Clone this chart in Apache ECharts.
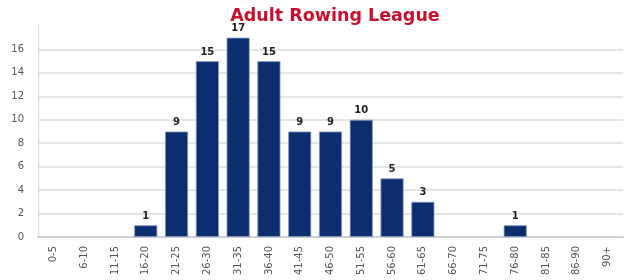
<!DOCTYPE html>
<html>
<head>
<meta charset="utf-8">
<script src="https://cdn.jsdelivr.net/npm/echarts@6/dist/echarts.min.js"></script>
<style>
  html, body { margin: 0; padding: 0; background: #fff; }
  #chart { width: 636px; height: 280px; }
</style>
</head>
<body>
<div id="chart"></div>
<script>
// age groups
const ageGroups = ['0-5', '6-10', '11-15', '16-20', '21-25', '26-30', '31-35', '36-40', '41-45', '46-50',
  '51-55', '56-60', '61-65', '66-70', '71-75', '76-80', '81-85', '86-90', '90+']
// members per group
const memberCounts = [0, 0, 0, 1, 9, 15, 17, 15, 9, 9, 10, 5, 3, 0, 0, 1, 0, 0, 0]

const chart = echarts.init(document.getElementById('chart'))

chart.setOption({
  animation: false,
  textStyle: { fontFamily: 'DejaVu Sans' },
  title: {
    text: 'Adult Rowing League',
    left: 330,
    textAlign: 'center',
    top: 2,
    textStyle: { color: '#c8102e', fontSize: 17.5, fontWeight: 'bold', fontFamily: 'DejaVu Sans' }
  },
  grid: { left: 38, right: 13, top: 26, bottom: 43 },
  xAxis: {
    type: 'category',
    data: ageGroups,
    axisLine: { lineStyle: { color: '#d0d0d0', width: 2 } },
    axisTick: { show: false },
    axisLabel: { rotate: 90, color: '#555', fontSize: 10, margin: 9 }
  },
  yAxis: {
    type: 'value',
    min: 0,
    max: 18,
    interval: 2,
    axisLine: { show: true, lineStyle: { color: '#d8d8d8' } },
    axisTick: { show: false },
    axisLabel: { color: '#555', fontSize: 10, margin: 14, showMaxLabel: false },
    splitLine: { showMaxLine: false, lineStyle: { color: '#dddddd', width: 1.5 } }
  },
  series: [{
    type: 'bar',
    // empty groups get no outline
    data: memberCounts.map(v => (v === 0 ? { value: v, itemStyle: { borderWidth: 0 } } : v)),
    barCategoryGap: '25%',
    itemStyle: { color: '#0d2e6e', borderColor: '#8a9cc4', borderWidth: 0.8 },
    label: {
      show: true,
      position: 'top',
      color: '#222',
      fontSize: 10,
      fontWeight: 'bold',
      distance: 4,
      formatter: p => (p.value > 0 ? p.value : '')
    }
  }]
})
</script>
</body>
</html>
